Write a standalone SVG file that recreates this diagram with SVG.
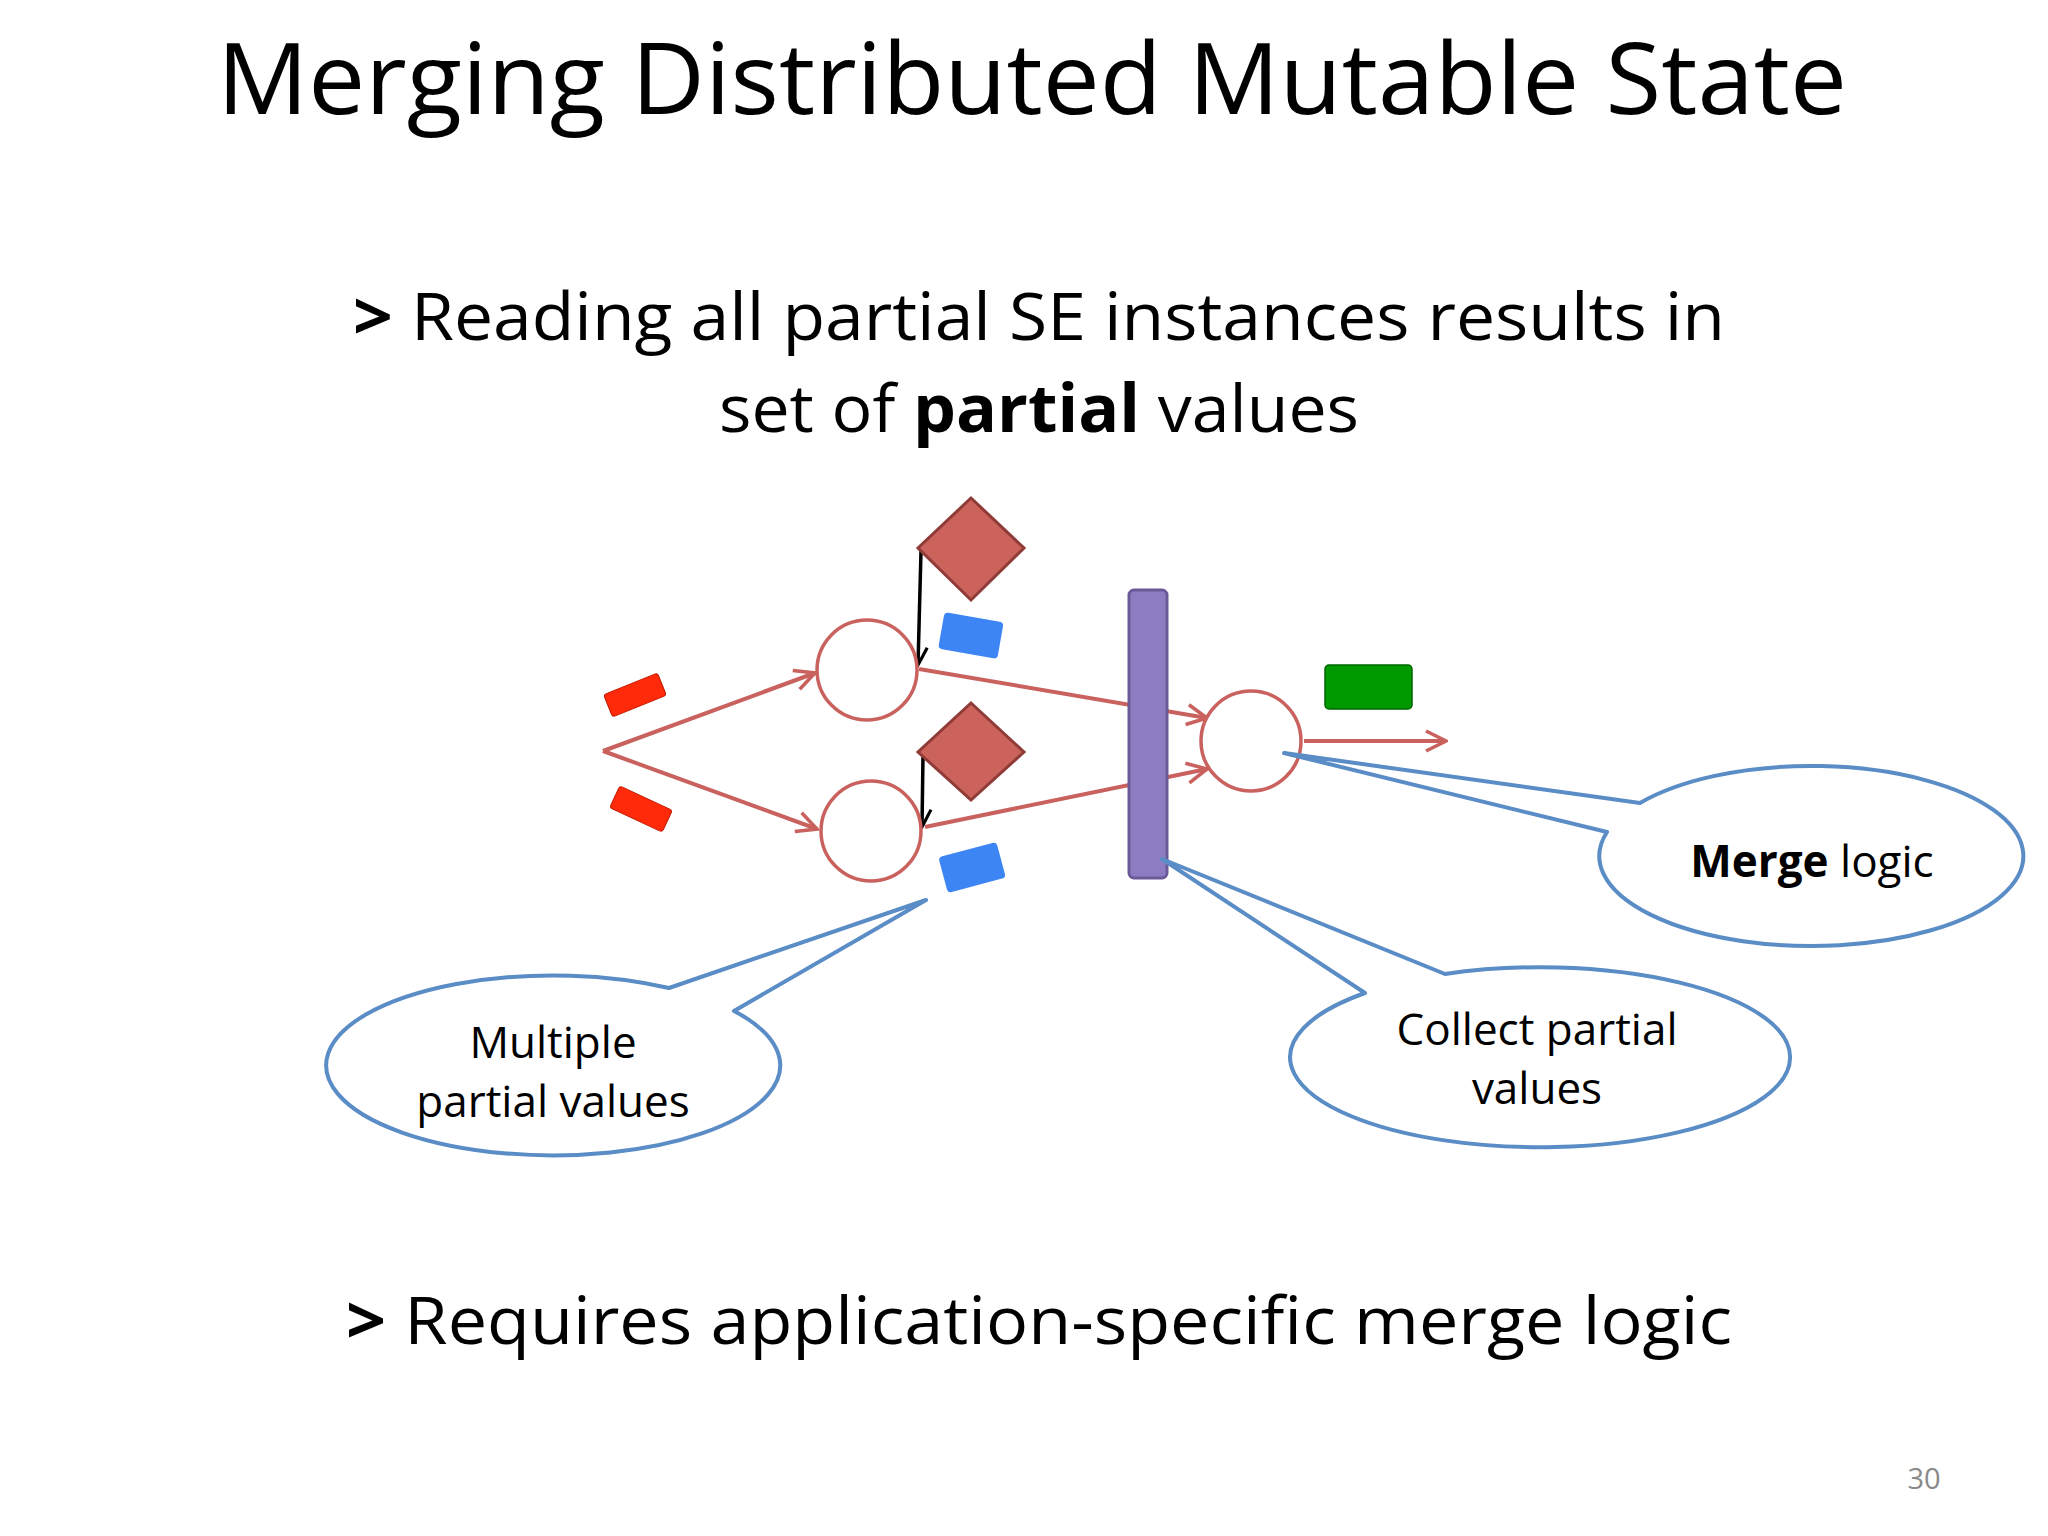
<svg xmlns="http://www.w3.org/2000/svg" width="2048" height="1536" viewBox="0 0 2048 1536">
<defs>
<style>
.t{font-family:"Open Sans","Liberation Sans",sans-serif;fill:#000}
.arr{stroke:#c9625e;stroke-width:4;fill:none}
.blk{stroke:#000;stroke-width:3.5;fill:none}
.circ{stroke:#c9625e;stroke-width:3.5;fill:#fff}
.dia{fill:#cc625c;stroke:#8f3b37;stroke-width:3}
.call{fill:#fff;stroke:#5a8cc6;stroke-width:4;stroke-linejoin:round}
.lbl{font-family:"Open Sans","Liberation Sans",sans-serif;font-size:44px;text-anchor:middle}
</style>
<marker id="ra" viewBox="0 0 12 12" refX="11" refY="6" markerWidth="6" markerHeight="6" orient="auto" markerUnits="strokeWidth"><path d="M1,1 L11,6 L1,11" fill="none" stroke="#c9625e" stroke-width="1.8"/></marker>
<marker id="ba" viewBox="0 0 12 12" refX="11" refY="6" markerWidth="6" markerHeight="6" orient="auto" markerUnits="strokeWidth"><path d="M1,1 L11,6 L1,11" fill="none" stroke="#000" stroke-width="1.8"/></marker>
</defs>
<rect width="2048" height="1536" fill="#fff"/>
<text class="t" x="1032" y="114" font-size="98" text-anchor="middle" textLength="1630" lengthAdjust="spacingAndGlyphs">Merging Distributed Mutable State</text>
<text class="t" x="353" y="340" font-size="66" textLength="1372" lengthAdjust="spacingAndGlyphs"><tspan font-weight="bold">&gt;</tspan> Reading all partial SE instances results in</text>
<text class="t" x="719" y="432" font-size="66" textLength="640" lengthAdjust="spacingAndGlyphs">set of <tspan font-weight="bold">partial</tspan> values</text>
<text class="t" x="346" y="1344" font-size="66" textLength="1386" lengthAdjust="spacingAndGlyphs"><tspan font-weight="bold">&gt;</tspan> Requires application-specific merge logic</text>
<text class="t" x="1924" y="1489" font-size="29" fill="#8a8a8a" style="fill:#8a8a8a" text-anchor="middle">30</text>

<g id="connectors">
<line class="arr" x1="603" y1="751" x2="815" y2="673" marker-end="url(#ra)"/>
<line class="arr" x1="603" y1="751" x2="817" y2="829" marker-end="url(#ra)"/>
<line class="arr" x1="919" y1="669" x2="1207" y2="718" marker-end="url(#ra)"/>
<line class="arr" x1="925" y1="827" x2="1207" y2="769" marker-end="url(#ra)"/>
<line class="arr" x1="1304" y1="741" x2="1446" y2="741" marker-end="url(#ra)"/>
<line class="blk" x1="921" y1="551" x2="918" y2="665" marker-end="url(#ba)"/>
<line class="blk" x1="923" y1="756" x2="922" y2="827" marker-end="url(#ba)"/>
</g>

<g id="bar"><rect x="1129" y="590" width="38" height="288" rx="5" fill="#8e7cc3" stroke="#6a5a98" stroke-width="3"/></g>
<g id="circle1"><circle class="circ" cx="867" cy="670" r="50"/></g>
<g id="circle2"><circle class="circ" cx="871" cy="831" r="50"/></g>
<g id="circle3"><circle class="circ" cx="1251" cy="741" r="50"/></g>
<g id="diamond1"><polygon class="dia" points="971,498 1024,548 971,600 918,548"/></g>
<g id="diamond2"><polygon class="dia" points="971,703 1024,752 971,800 918,752"/></g>
<g id="blue1"><rect x="941" y="617" width="60" height="37" rx="4" fill="#3d85f5" transform="rotate(10 971 635)"/></g>
<g id="blue2"><rect x="942" y="849" width="60" height="37" rx="4" fill="#3d85f5" transform="rotate(-15 972 867)"/></g>
<g id="red1"><rect x="606" y="683" width="58" height="24" rx="3" fill="#ff2a0a" stroke="#c01800" stroke-width="1" transform="rotate(-22 635 695)"/></g>
<g id="red2"><rect x="612" y="797" width="58" height="24" rx="3" fill="#ff2a0a" stroke="#c01800" stroke-width="1" transform="rotate(25 641 809)"/></g>
<g id="green"><rect x="1325" y="665" width="87" height="44" rx="4" fill="#009900" stroke="#006600" stroke-width="1.5"/></g>

<g id="callout-merge">
<path class="call" d="M1640,803 L1284,753 L1607,832 A212 90 0 1 0 1640,803 Z"/>
<text class="lbl" x="1812" y="877"><tspan font-weight="bold">Merge</tspan> logic</text>
</g>
<g id="callout-multiple">
<path class="call" d="M669,988 L926,900 L734,1011 A227 90 0 1 1 669,988 Z"/>
<text class="lbl" x="553" y="1058">Multiple</text>
<text class="lbl" x="553" y="1117">partial values</text>
</g>
<g id="callout-collect">
<path class="call" d="M1365,993 L1162,859 L1445,974 A250 90 0 1 1 1365,993 Z"/>
<text class="lbl" x="1537" y="1045">Collect partial</text>
<text class="lbl" x="1537" y="1104">values</text>
</g>
</svg>
